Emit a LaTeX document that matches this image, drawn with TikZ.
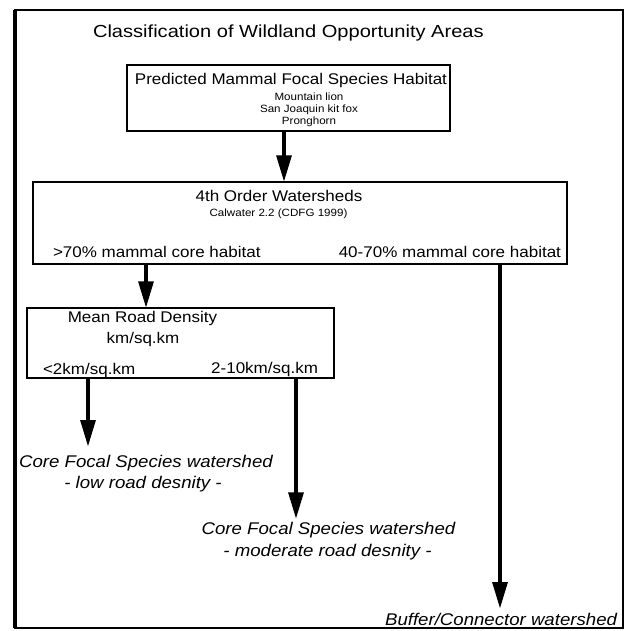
\documentclass[tikz,border=0pt]{standalone}
\usepackage{graphicx}
\usepackage{fontspec}
\setmainfont{Liberation Sans}
\usetikzlibrary{arrows.meta}
\newcommand\hsc[2][1.1]{\scalebox{#1}[1]{#2}}
\begin{document}
\begin{tikzpicture}[x=0.75pt,y=-0.75pt,
  box/.style={draw,line width=1.5pt,inner sep=0pt,outer sep=0pt},
  txt/.style={inner sep=0pt,outer sep=0pt,anchor=base},
  ttl/.style={txt,font=\fontsize{13.1pt}{15pt}\selectfont},
  big/.style={txt,font=\fontsize{11.6pt}{14pt}\selectfont},
  sml/.style={txt,font=\fontsize{7.9pt}{9pt}\selectfont},
  lab/.style={txt,font=\fontsize{12.7pt}{15pt}\selectfont\itshape},
  arr/.style={line width=3pt,-{Triangle[width=11pt,length=20pt]}}]
\useasboundingbox (0,0) rectangle (625,631);
\draw[line width=1.5pt] (15,10) rectangle (623,628);
\draw[line width=2.6pt] (15,10) -- (15,628);
% title
\node[ttl,anchor=base west] (title) at (93,38) {\hsc[1.15]{Classification of Wildland Opportunity Areas}};
% boxes
\node[box,minimum width=242.25pt,minimum height=49.5pt] (b1) at (288.5,98) {};
\node[box,minimum width=400.5pt,minimum height=61.5pt] (b2) at (300,223) {};
\node[box,minimum width=230.25pt,minimum height=52.5pt] (b3) at (180.5,343) {};
% box 1 text
\node[big] (b1t) at (291,85) {\hsc{Predicted Mammal Focal Species Habitat}};
\node[sml] (b1a) at (309,101) {\hsc{Mountain lion}};
\node[sml] (b1b) at (309,113) {\hsc{San Joaquin kit fox}};
\node[sml] (b1c) at (309,125) {\hsc{Pronghorn}};
% box 2 text
\node[big] (b2t) at (279,201) {\hsc{4th Order Watersheds}};
\node[sml] (b2a) at (278.5,216) {\hsc{Calwater 2.2 (CDFG 1999)}};
\node[big,anchor=base west] (b2l) at (53,257) {\hsc{>70\% mammal core habitat}};
\node[big,anchor=base east] (b2r) at (561,257) {\hsc{40-70\% mammal core habitat}};
% box 3 text
\node[big] (b3t) at (142.5,322) {\hsc{Mean Road Density}};
\node[big] (b3a) at (143,343) {\hsc{km/sq.km}};
\node[big,anchor=base west] (b3l) at (43,374) {\hsc{<2km/sq.km}};
\node[big,anchor=base east] (b3r) at (318,373) {\hsc{2-10km/sq.km}};
% outcome labels
\node[lab] (o1) at (146,467) {\hsc{Core Focal Species watershed}};
\node[lab] (o1b) at (143,488) {\hsc{- low road desnity -}};
\node[lab] (o2) at (328.5,534) {\hsc{Core Focal Species watershed}};
\node[lab] (o2b) at (327.5,556) {\hsc{- moderate road desnity -}};
\node[lab,anchor=base east] (o3) at (617,625) {\hsc{Buffer/Connector watershed}};
% connectors
\draw[arr] (b1.south -| 284,0) -- (b2.north -| 284,0);
\draw[arr] (b2.south -| 146,0) -- (b3.north -| 146,0);
\draw[arr,shorten >=6pt] (b3.south -| 88,0) -- (o1.north -| 88,0);
\draw[arr,shorten >=2pt] (b3.south -| 296,0) -- (o2.north -| 296,0);
\draw[arr,shorten >=3pt] (b2.south -| 500,0) -- (o3.north -| 500,0);
\end{tikzpicture}
\end{document}
